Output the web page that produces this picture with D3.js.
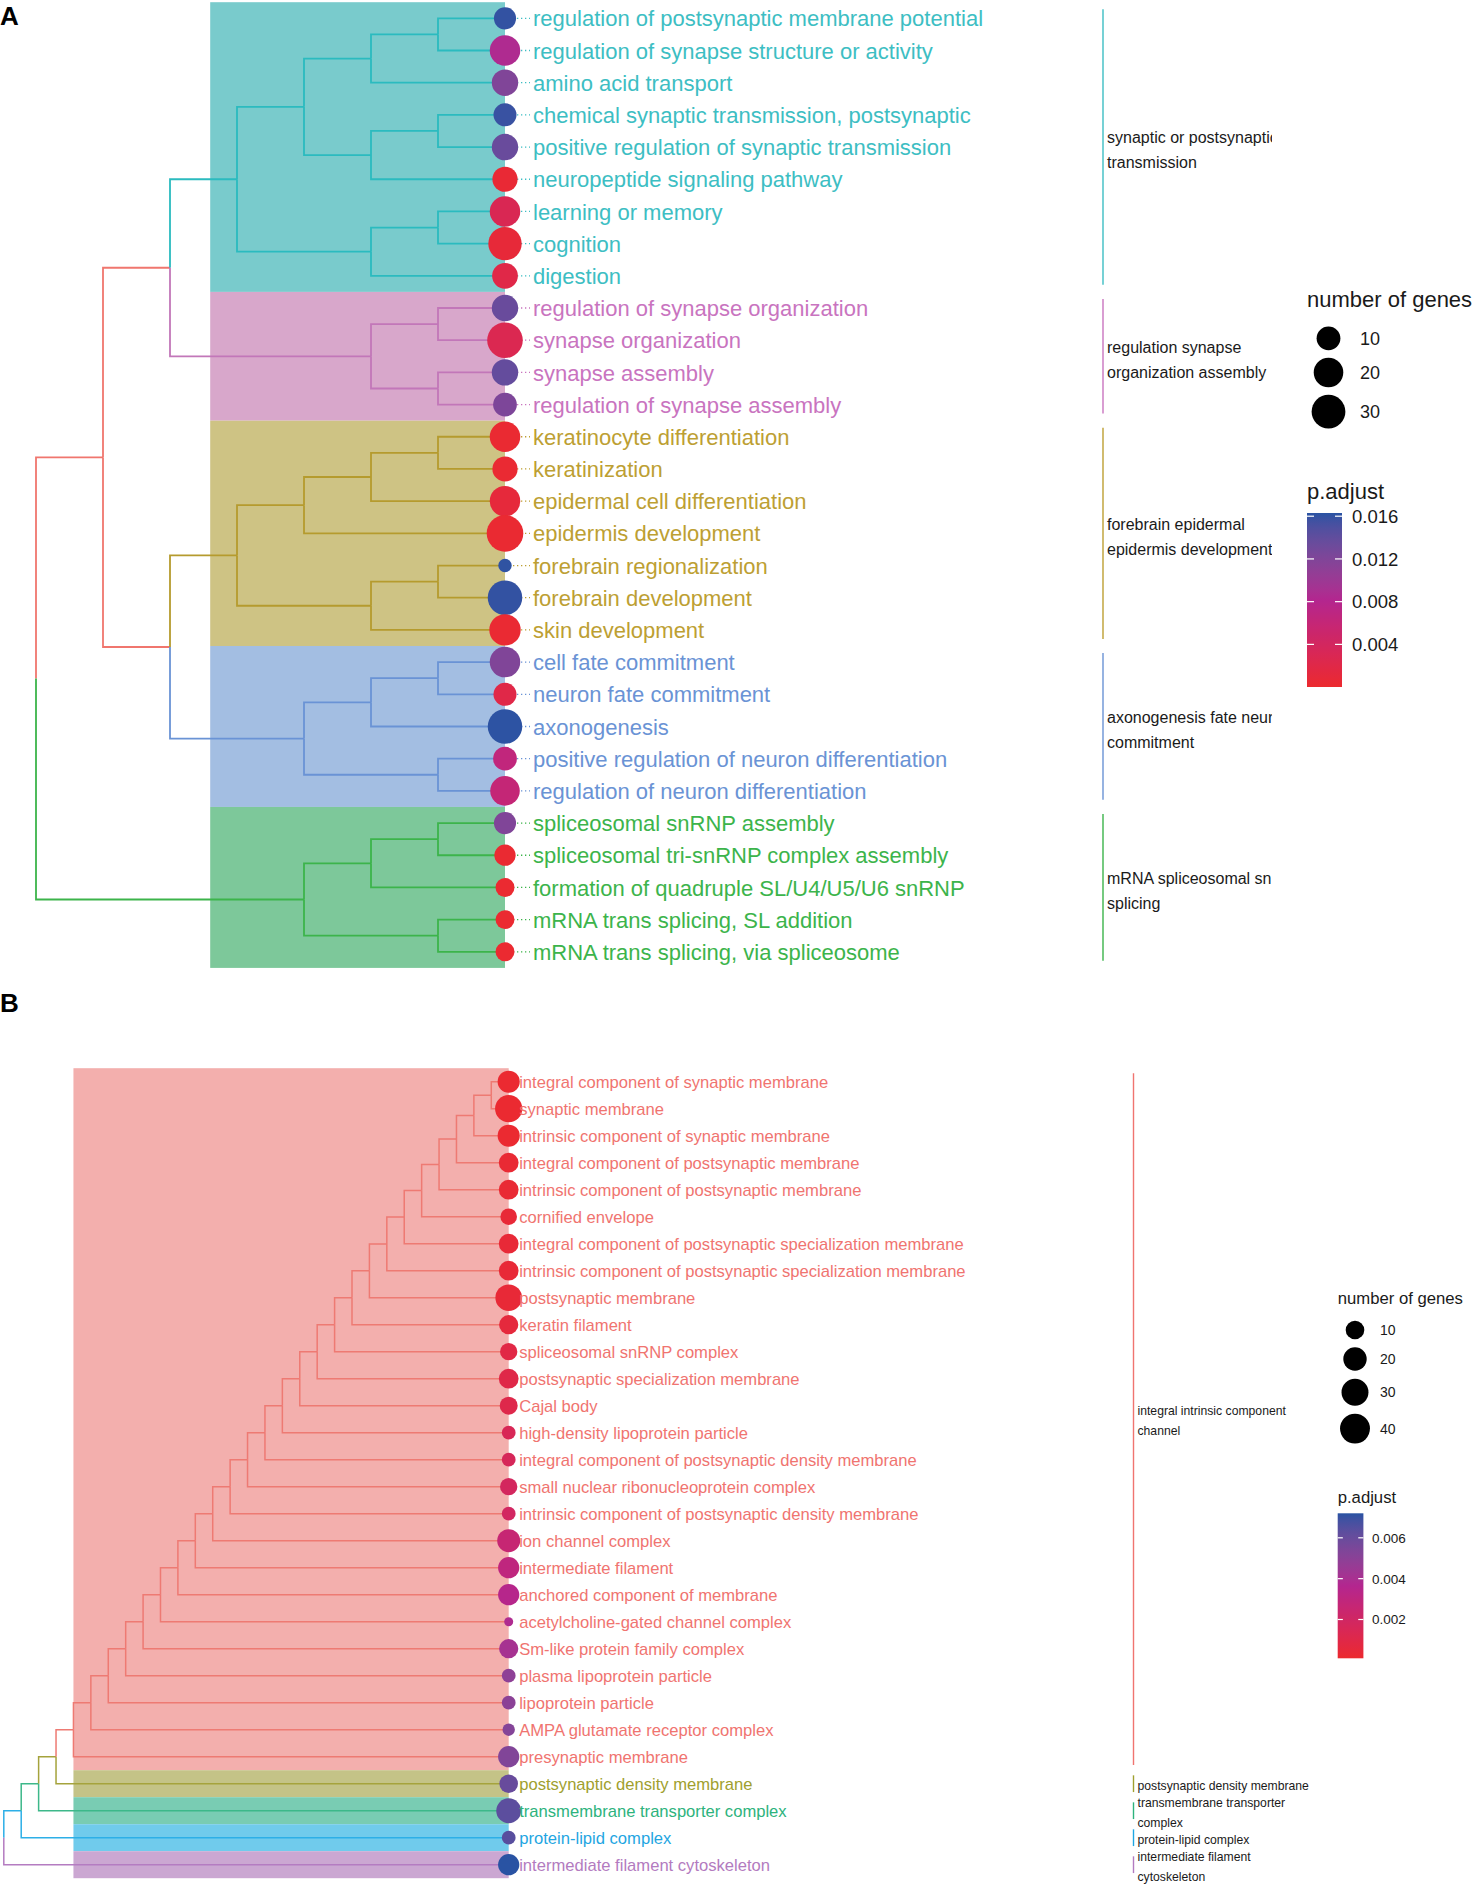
<!DOCTYPE html>
<html>
<head>
<meta charset="utf-8">
<script src="https://cdn.jsdelivr.net/npm/d3@7"></script>
<style>
  body { margin: 0; background: #fff; }
  svg { display: block; font-family: "Liberation Sans", Arial, sans-serif; }
</style>
</head>
<body>
<svg id="chart" width="1475" height="1887"></svg>
<script>
// ---------- panel A : biological process terms, top to bottom ----------
const termsA = [
  "regulation of postsynaptic membrane potential",
  "regulation of synapse structure or activity",
  "amino acid transport",
  "chemical synaptic transmission, postsynaptic",
  "positive regulation of synaptic transmission",
  "neuropeptide signaling pathway",
  "learning or memory",
  "cognition",
  "digestion",
  "regulation of synapse organization",
  "synapse organization",
  "synapse assembly",
  "regulation of synapse assembly",
  "keratinocyte differentiation",
  "keratinization",
  "epidermal cell differentiation",
  "epidermis development",
  "forebrain regionalization",
  "forebrain development",
  "skin development",
  "cell fate commitment",
  "neuron fate commitment",
  "axonogenesis",
  "positive regulation of neuron differentiation",
  "regulation of neuron differentiation",
  "spliceosomal snRNP assembly",
  "spliceosomal tri-snRNP complex assembly",
  "formation of quadruple SL/U4/U5/U6 snRNP",
  "mRNA trans splicing, SL addition",
  "mRNA trans splicing, via spliceosome"
];
const genesA = [8, 22, 14, 9, 14, 12, 22, 29, 13, 14, 35, 14, 10, 22, 12,
                22, 38, 3, 32, 24, 22, 9, 32, 10, 20, 8, 7, 5, 5, 5];
const padjA = [0.0160, 0.0085, 0.0120, 0.0158, 0.0135, 0.0005, 0.0030, 0.0008, 0.0020, 0.0135,
               0.0028, 0.0138, 0.0122, 0.0003, 0.0004, 0.0010, 0.0003, 0.0161, 0.0160, 0.0004,
               0.0120, 0.0020, 0.0162, 0.0065, 0.0060, 0.0120, 0.0003, 0.0002, 0.0002, 0.0002];
// dendrogram, leaves are row numbers
const treeA = [
  [
    [[[[[0, 1], 2], [[3, 4], 5]], [[6, 7], 8]], [[9, 10], [11, 12]]],
    [[[[[13, 14], 15], 16], [[17, 18], 19]], [[[20, 21], 22], [23, 24]]]
  ],
  [[[25, 26], 27], [28, 29]]
];
const groupsA = [
  { from: 0, to: 8, lines: ["synaptic or postsynaptic", "transmission"] },
  { from: 9, to: 12, lines: ["regulation synapse", "organization assembly"] },
  { from: 13, to: 19, lines: ["forebrain epidermal", "epidermis development"] },
  { from: 20, to: 24, lines: ["axonogenesis fate neuron", "commitment"] },
  { from: 25, to: 29, lines: ["mRNA spliceosomal snRNP", "splicing"] }
];
const lineColorsA = ["#F0766E", "#2BBBBF", "#C277B9", "#B59B2E", "#6A93D5", "#3CB44B"];
const textColorsA = ["#F0766E", "#3DBEC3", "#C974BF", "#BD9F33", "#6A93D5", "#3CB44B"];
const fillColorsA = [null, "#79CBCC", "#D8A7CB", "#CEC384", "#A3BEE2", "#7DC89A"];
const sizeBreaksA = [10, 20, 30];
const padjBreaksA = [0.004, 0.008, 0.012, 0.016];

// ---------- panel B : cellular component terms, top to bottom ----------
const termsB = [
  "integral component of synaptic membrane",
  "synaptic membrane",
  "intrinsic component of synaptic membrane",
  "integral component of postsynaptic membrane",
  "intrinsic component of postsynaptic membrane",
  "cornified envelope",
  "integral component of postsynaptic specialization membrane",
  "intrinsic component of postsynaptic specialization membrane",
  "postsynaptic membrane",
  "keratin filament",
  "spliceosomal snRNP complex",
  "postsynaptic specialization membrane",
  "Cajal body",
  "high-density lipoprotein particle",
  "integral component of postsynaptic density membrane",
  "small nuclear ribonucleoprotein complex",
  "intrinsic component of postsynaptic density membrane",
  "ion channel complex",
  "intermediate filament",
  "anchored component of membrane",
  "acetylcholine-gated channel complex",
  "Sm-like protein family complex",
  "plasma lipoprotein particle",
  "lipoprotein particle",
  "AMPA glutamate receptor complex",
  "presynaptic membrane",
  "postsynaptic density membrane",
  "transmembrane transporter complex",
  "protein-lipid complex",
  "intermediate filament cytoskeleton"
];
const genesB = [17, 31, 17, 12, 12, 7, 12, 12, 29, 11, 8, 12, 9, 4, 4,
                8, 4, 19, 15, 15, 2, 11, 4, 4, 3, 15, 10, 24, 4, 15];
const padjB = [0.0002, 0.0002, 0.0002, 0.0003, 0.0003, 0.0004, 0.0004, 0.0004, 0.0004, 0.0006,
               0.0009, 0.0010, 0.0011, 0.0015, 0.0016, 0.0018, 0.0019, 0.0026, 0.0030, 0.0035,
               0.0038, 0.0041, 0.0049, 0.0050, 0.0052, 0.0053, 0.0060, 0.0063, 0.0064, 0.0072];
// ladder-shaped dendrogram: every row joins the clade above it
const orderB = d3.range(termsB.length);
const treeB = orderB.slice(1).reduce((acc, i) => [acc, i], orderB[0]);
const groupsB = [
  { from: 0, to: 25, lines: ["integral intrinsic component", "channel"] },
  { from: 26, to: 26, lines: ["postsynaptic density membrane"] },
  { from: 27, to: 27, lines: ["transmembrane transporter", "complex"] },
  { from: 28, to: 28, lines: ["protein-lipid complex"] },
  { from: 29, to: 29, lines: ["intermediate filament", "cytoskeleton"] }
];
const lineColorsB = [null, "#EE7A73", "#A5A33C", "#3DB88A", "#2DAFE7", "#B47CC1"];
const textColorsB = [null, "#F07470", "#A0A02E", "#2DB37D", "#1FA6E2", "#B37BC0"];
const fillColorsB = [null, "#F3AFAD", "#C4C387", "#79CCB3", "#70CBEC", "#CBA7D2"];
const sizeBreaksB = [10, 20, 30, 40];
const padjBreaksB = [0.002, 0.004, 0.006];

const svg = d3.select("#chart");
svg.append("rect").attr("width", 1475).attr("height", 1887).attr("fill", "#fff");

function drawPanel(cfg) {
  const g = svg.append("g");
  const n = cfg.terms.length;

  const root = d3.hierarchy(cfg.tree, d => Array.isArray(d) ? d : null);
  const x = d3.scaleLinear().domain([0, root.height]).range([cfg.leafX, cfg.rootX]);
  const y = d3.scaleLinear().domain([0, n - 1]).range([cfg.top, cfg.top + (n - 1) * cfg.step]);

  const groupOf = [];
  cfg.groups.forEach((gr, gi) => {
    for (let i = gr.from; i <= gr.to; i++) groupOf[i] = gi + 1;
  });

  root.eachAfter(d => {
    d.px = x(d.height);
    if (!d.children) {
      d.py = y(d.data);
      d.grp = groupOf[d.data];
    } else {
      d.py = d3.mean(d.children, c => c.py);
      const gs = d.children.map(c => c.grp);
      d.grp = gs.every(v => v === gs[0]) ? gs[0] : (cfg.mixed === "max" ? d3.max(gs) : 0);
    }
  });

  const color = d3.scaleLinear()
    .domain([cfg.padjDomain[0], (cfg.padjDomain[0] + cfg.padjDomain[1]) / 2, cfg.padjDomain[1]])
    .range(["#EC2A2E", "#B3268F", "#2953A3"])
    .interpolate(d3.interpolateLab);
  const rs = d3.scaleSqrt().domain([0, cfg.sizeDomain[1] - cfg.sizeDomain[0]]).range(cfg.rRange);
  const rOf = v => rs(v - cfg.sizeDomain[0]);

  // highlight boxes
  g.append("g").selectAll("rect").data(cfg.groups).join("rect")
    .attr("x", x(cfg.rectDepth))
    .attr("y", d => y(d.from) - cfg.step / 2)
    .attr("width", cfg.leafX - x(cfg.rectDepth))
    .attr("height", d => (d.to - d.from + 1) * cfg.step)
    .attr("fill", (d, i) => cfg.fills[i + 1]);

  // tree edges
  g.append("g").selectAll("path")
    .data(root.descendants().filter(d => d.parent))
    .join("path")
    .attr("d", d => `M${d.parent.px},${d.parent.py}V${d.py}H${d.px}`)
    .attr("fill", "none")
    .attr("stroke", d => cfg.lineColors[d.grp])
    .attr("stroke-width", cfg.treeWidth);

  const leaves = root.leaves();

  if (cfg.leaderLen) {
    g.append("g").selectAll("line").data(leaves).join("line")
      .attr("x1", cfg.leafX).attr("x2", cfg.leafX + cfg.leaderLen)
      .attr("y1", d => d.py).attr("y2", d => d.py)
      .attr("stroke", d => cfg.textColors[d.grp])
      .attr("stroke-width", 1.3)
      .attr("stroke-dasharray", "1.3,2.7");
  }

  g.append("g").selectAll("circle").data(leaves).join("circle")
    .attr("cx", d => d.px).attr("cy", d => d.py)
    .attr("r", d => rOf(cfg.genes[d.data]))
    .attr("fill", d => color(cfg.padj[d.data]));

  g.append("g").selectAll("text").data(leaves).join("text")
    .attr("x", cfg.leafX + cfg.labelOffset)
    .attr("y", d => d.py)
    .attr("dy", "0.37em")
    .attr("font-size", cfg.labelSize)
    .attr("fill", d => cfg.textColors[d.grp])
    .text(d => cfg.terms[d.data]);

  // cluster brackets and names
  const clipId = "clip" + cfg.id;
  svg.append("clipPath").attr("id", clipId)
    .append("rect").attr("x", cfg.bracketX).attr("y", 0)
    .attr("width", cfg.clipRight - cfg.bracketX).attr("height", 1887);
  const cl = g.append("g").attr("clip-path", `url(#${clipId})`);
  cfg.groups.forEach((gr, gi) => {
    const y1 = y(gr.from) - cfg.bracketPad * cfg.step;
    const y2 = y(gr.to) + cfg.bracketPad * cfg.step;
    g.append("line")
      .attr("x1", cfg.bracketX).attr("x2", cfg.bracketX)
      .attr("y1", y1).attr("y2", y2)
      .attr("stroke", cfg.textColors[gi + 1]).attr("stroke-width", 1.4);
    const mid = (y1 + y2) / 2 + cfg.clusterShift;
    gr.lines.forEach((t, li) => {
      cl.append("text")
        .attr("x", cfg.bracketX + 4)
        .attr("y", mid + (li - (gr.lines.length - 1) / 2) * cfg.clusterLineH)
        .attr("dy", "0.36em")
        .attr("font-size", cfg.clusterSize)
        .attr("fill", "#1a1a1a")
        .text(t);
    });
  });

  // size legend
  const L = cfg.legend;
  g.append("text").attr("x", L.x).attr("y", L.titleY).attr("dy", "0.36em")
    .attr("font-size", L.titleSize).attr("fill", "#1a1a1a").text("number of genes");
  let ky = L.keyY;
  cfg.sizeBreaks.forEach((b, i) => {
    const r = rOf(b);
    if (i > 0) ky += rOf(cfg.sizeBreaks[i - 1]) + r + L.keyGap;
    g.append("circle").attr("cx", L.keyX).attr("cy", ky).attr("r", r).attr("fill", "#000");
    g.append("text").attr("x", L.keyLabelX).attr("y", ky).attr("dy", "0.36em")
      .attr("font-size", L.labelSize).attr("fill", "#1a1a1a").text(b);
  });

  // colour bar
  g.append("text").attr("x", L.x).attr("y", L.barTitleY).attr("dy", "0.36em")
    .attr("font-size", L.titleSize).attr("fill", "#1a1a1a").text("p.adjust");
  const gradId = "grad" + cfg.id;
  const grad = svg.append("defs").append("linearGradient").attr("id", gradId)
    .attr("x1", 0).attr("y1", 1).attr("x2", 0).attr("y2", 0);
  d3.range(0, 1.0001, 0.05).forEach(t => {
    grad.append("stop").attr("offset", t)
      .attr("stop-color", color(cfg.padjDomain[0] + t * (cfg.padjDomain[1] - cfg.padjDomain[0])));
  });
  const by = d3.scaleLinear().domain(cfg.padjDomain).range([L.barBottom, L.barTop]);
  g.append("rect").attr("x", L.x).attr("y", L.barTop)
    .attr("width", L.barW).attr("height", L.barBottom - L.barTop)
    .attr("fill", `url(#${gradId})`);
  const tk = g.append("g");
  cfg.padjBreaks.forEach(b => {
    tk.append("line").attr("x1", L.x).attr("x2", L.x + L.barW / 5)
      .attr("y1", by(b)).attr("y2", by(b)).attr("stroke", "#fff").attr("stroke-width", 1.2);
    tk.append("line").attr("x1", L.x + L.barW).attr("x2", L.x + L.barW * 4 / 5)
      .attr("y1", by(b)).attr("y2", by(b)).attr("stroke", "#fff").attr("stroke-width", 1.2);
    tk.append("text").attr("x", L.x + L.barW + L.barLabelGap).attr("y", by(b)).attr("dy", "0.36em")
      .attr("font-size", L.barLabelSize).attr("fill", "#1a1a1a").text(d3.format(".3f")(b));
  });

  // panel tag
  svg.append("text").attr("x", 0).attr("y", cfg.tagY)
    .attr("font-size", 26).attr("font-weight", "bold").attr("fill", "#000").text(cfg.id);
}

drawPanel({
  id: "A", terms: termsA, genes: genesA, padj: padjA, tree: treeA, groups: groupsA,
  lineColors: lineColorsA, textColors: textColorsA, fills: fillColorsA, mixed: "none",
  leafX: 505, rootX: 36, top: 18.3, step: 32.19, rectDepth: 4.4, treeWidth: 1.8,
  labelOffset: 28, labelSize: 22, leaderLen: 25,
  sizeDomain: [3, 38], rRange: [6.7, 18.3], sizeBreaks: sizeBreaksA,
  padjDomain: [0.00001, 0.0163], padjBreaks: padjBreaksA,
  bracketX: 1103, bracketPad: 0.28, clipRight: 1272,
  clusterSize: 16, clusterLineH: 25, clusterShift: 3,
  tagY: 25,
  legend: {
    x: 1307, titleY: 299, titleSize: 22,
    keyX: 1328.5, keyY: 338.3, keyGap: 7.5, keyLabelX: 1360, labelSize: 18,
    barTitleY: 491, barTop: 513, barBottom: 687, barW: 35, barLabelGap: 10, barLabelSize: 18.5
  }
});

drawPanel({
  id: "B", terms: termsB, genes: genesB, padj: padjB, tree: treeB, groups: groupsB,
  lineColors: lineColorsB, textColors: textColorsB, fills: fillColorsB, mixed: "max",
  leafX: 508.7, rootX: 3.8, top: 1081.7, step: 27, rectDepth: 25, treeWidth: 1.5,
  labelOffset: 10.5, labelSize: 16.6, leaderLen: 0,
  sizeDomain: [2, 48], rRange: [4.5, 16], sizeBreaks: sizeBreaksB,
  padjDomain: [0.0001, 0.0072], padjBreaks: padjBreaksB,
  bracketX: 1133.5, bracketPad: 0.31, clipRight: 1475,
  clusterSize: 12.2, clusterLineH: 20, clusterShift: 1.5,
  tagY: 1012,
  legend: {
    x: 1337.7, titleY: 1298, titleSize: 16.7,
    keyX: 1355, keyY: 1330, keyGap: 8, keyLabelX: 1380, labelSize: 14,
    barTitleY: 1497, barTop: 1513.3, barBottom: 1658.3, barW: 25.7, barLabelGap: 8.5, barLabelSize: 13.5
  }
});
</script>
</body>
</html>
